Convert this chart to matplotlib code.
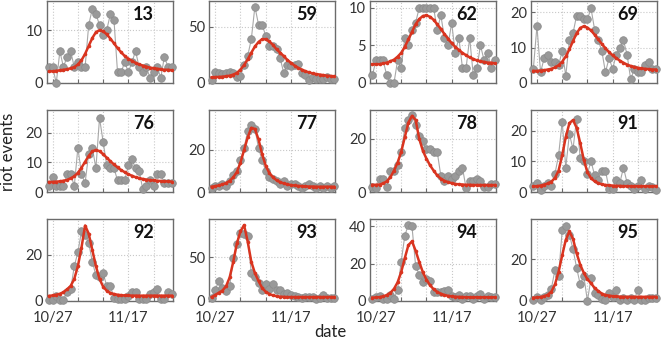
import numpy as np
import pandas as pd
import matplotlib
matplotlib.use("Agg")
import matplotlib.pyplot as plt

plt.rcParams['font.family'] = ['Lato', 'DejaVu Sans']

# days covered by every panel
dates = pd.date_range('2020-10-26', '2020-11-29', freq='D')
grid_dates = ['10/27', '11/03', '11/10', '11/17', '11/24']
label_dates = ['10/27', '11/17']

regions = ['13', '59', '62', '69', '76', '77', '78', '91', '92', '93', '94', '95']

# observed riot events per day
obs_13 = [3, 3, 0, 6, 3, 5, 6, 3, 4, 3, 3, 11, 14, 13, 11, 9, 10, 13, 12, 2, 2, 4, 2, 4, 6, 3, 2, 3, 1, 2, 3, 1, 5, 3, 3]
obs_59 = [3, 10, 9, 8, 9, 10, 9, 5, 6, 16, 24, 39, 68, 52, 52, 42, 33, 33, 30, 22, 9, 16, 15, 16, 17, 9, 7, 3, 5, 4, 4, 4, 5, 4, 4]
obs_62 = [1, 3, 3, 3, 1, 0, 0, 3, 2, 6, 5, 7, 8, 10, 10, 10, 10, 10, 7, 9, 6, 5, 8, 4, 6, 2, 2, 6, 1, 2, 5, 3, 4, 2, 3]
obs_69 = [4, 16, 3, 7, 8, 6, 6, 5, 9, 2, 12, 14, 19, 19, 18, 18, 21, 15, 12, 9, 3, 7, 4, 8, 10, 12, 8, 1, 4, 3, 3, 5, 6, 4, 4]
obs_76 = [2, 5, 2, 2, 2, 6, 6, 2, 15, 6, 3, 13, 15, 8, 25, 17, 9, 8, 8, 4, 4, 4, 9, 11, 8, 7, 1, 2, 4, 2, 6, 6, 3, 3, 3]
obs_77 = [2, 3, 3, 4, 3, 5, 8, 10, 15, 21, 29, 32, 30, 21, 15, 10, 7, 6, 5, 4, 5, 3, 4, 4, 3, 2, 3, 4, 3, 2, 3, 2, 3, 2, 3]
obs_78 = [2, 1.5, 5, 5, 2, 8, 8, 10, 15, 24, 27, 29, 25, 21, 19, 16, 16, 15, 15, 6, 4, 6, 5, 6, 8, 9, 1.5, 4, 4, 5, 4, 2, 2, 3, 3]
obs_91 = [2, 3, 0.5, 2, 3, 2, 6, 12, 23, 8, 19, 14, 24, 11, 10, 6, 10, 5.5, 4, 7, 7, 1, 1, 4, 3, 8, 3, 2, 1, 2, 4, 1, 2, 1.5, 0.5]
obs_92 = [0.5, 0.5, 2, 0.5, 0.5, 4, 5, 15, 21, 30, 28.5, 25, 17, 11, 10.5, 12, 6.5, 6.5, 1.5, 1, 1, 1, 2, 4, 4, 1, 1, 1, 3, 4, 5, 1, 1, 4, 3]
obs_93 = [3, 13, 23, 15, 12, 17, 49, 65, 78, 77, 74, 32, 27, 21, 13, 19, 14, 20, 13, 13, 8, 9, 7, 6, 5, 3, 5, 5, 5, 2, 4, 7, 4, 4, 3]
obs_94 = [1, 2, 2.5, 1, 1, 3, 1, 6, 21, 35, 41, 40, 19, 14, 10, 12, 11, 5, 5, 5, 5.5, 6, 2.5, 2, 3, 1, 2.5, 2.5, 1, 2.5, 4, 1, 2.5, 2, 2]
obs_95 = [0.5, 2, 0.3, 2, 3, 6, 15, 12, 34, 36, 32, 25, 16, 8, 12, 0, 11, 4, 3, 1, 0.5, 4, 2, 5.5, 0.5, 1.5, 0.5, 1.5, 0.5, 5.5, 0.5, 0.5, 1.5, 1.5, 1.5]

# fitted curves
fit_13 = [2.2, 2.2, 2.3, 2.4, 2.5, 2.6, 2.8, 3.0, 3.5, 4.3, 5.5, 7.0, 8.5, 9.6, 10.0, 9.8, 9.2, 8.4, 7.5, 6.6, 5.8, 5.1, 4.6, 4.2, 3.8, 3.5, 3.3, 3.1, 2.9, 2.8, 2.7, 2.6, 2.5, 2.5, 2.4]
fit_59 = [5, 5.2, 5.4, 5.6, 6, 6.5, 7.5, 9, 12, 16, 21, 27, 32.5, 36.5, 39, 39, 37, 34, 30, 27, 24, 20.5, 18, 15.5, 13.5, 12, 10.5, 9.5, 8.5, 8, 7.5, 7, 6.5, 6.2, 6]
fit_62 = [2.5, 2.5, 2.5, 2.6, 2.7, 2.9, 3.1, 3.5, 4.0, 4.8, 5.8, 6.8, 7.8, 8.5, 8.9, 9.0, 8.8, 8.4, 7.8, 7.2, 6.5, 5.9, 5.3, 4.8, 4.4, 4.0, 3.7, 3.4, 3.2, 3.0, 2.9, 2.8, 2.7, 2.7, 2.6]
fit_69 = [3.4, 3.4, 3.5, 3.6, 3.8, 4.0, 4.4, 5.0, 6.0, 7.5, 9.5, 11.8, 14, 15.5, 16, 15.6, 14.8, 13.6, 12.3, 11, 9.8, 8.7, 7.8, 7, 6.3, 5.7, 5.2, 4.8, 4.5, 4.3, 4.1, 4.0, 3.9, 3.8, 3.8]
fit_76 = [3.4, 3.4, 3.5, 3.6, 3.8, 4.1, 4.6, 5.3, 6.5, 8.2, 10.2, 12.2, 13.7, 14.2, 13.8, 12.8, 11.6, 10.4, 9.3, 8.3, 7.4, 6.7, 6.0, 5.5, 5.0, 4.7, 4.4, 4.2, 4.0, 3.9, 3.8, 3.7, 3.6, 3.6, 3.5]
fit_77 = [2.5, 2.8, 3.1, 3.6, 4.3, 5.3, 7, 9.5, 14, 20, 26, 30.5, 30, 25, 18, 12.5, 9, 7, 5.6, 4.7, 4.1, 3.6, 3.3, 3.1, 2.9, 2.8, 2.7, 2.6, 2.6, 2.5, 2.5, 2.5, 2.5, 2.5, 2.5]
fit_78 = [2.7, 2.7, 2.8, 3.2, 4.0, 5.5, 8, 11, 15, 20.5, 26, 28.5, 27, 20, 15.5, 12.5, 10, 8, 6.2, 5.0, 4.2, 3.7, 3.3, 3.0, 2.9, 2.8, 2.7, 2.7, 2.6, 2.6, 2.6, 2.6, 2.6, 2.6, 2.6]
fit_91 = [1.8, 1.9, 2.1, 2.4, 2.8, 3.4, 4.6, 7, 12, 18, 22.5, 23.5, 21, 16, 10.5, 6.5, 4.5, 3.5, 2.9, 2.5, 2.3, 2.2, 2.1, 2.0, 2.0, 1.9, 1.9, 1.9, 1.9, 1.9, 1.9, 1.9, 1.9, 1.9, 1.9]
fit_92 = [2.2, 2.4, 2.7, 3.1, 3.8, 5, 6.5, 9.5, 15, 23, 32.5, 29, 22, 15, 9.5, 6.2, 4.4, 3.5, 3, 2.7, 2.5, 2.4, 2.4, 2.3, 2.3, 2.3, 2.3, 2.3, 2.3, 2.3, 2.3, 2.3, 2.3, 2.3, 2.3]
fit_93 = [4.5, 7, 9.5, 12, 17, 27, 45, 66, 80, 87, 68, 45, 32, 23, 15, 10.5, 8, 6.5, 5.5, 5, 4.7, 4.5, 4.5, 4.5, 4.5, 4.5, 4.5, 4.5, 4.5, 4.5, 4.5, 4.5, 4.5, 4.5, 4.5]
fit_94 = [1.8, 1.9, 2.1, 2.5, 3.2, 4.4, 6.5, 10, 15.5, 23, 30, 32, 27, 21, 15.5, 11.5, 8.5, 6.3, 4.9, 3.9, 3.2, 2.8, 2.5, 2.3, 2.2, 2.1, 2.0, 2.0, 2.0, 2.0, 2.0, 2.0, 2.0, 2.0, 2.0]
fit_95 = [1.6, 1.7, 1.9, 2.3, 3.0, 4.5, 8, 14, 22, 29.5, 33.5, 30, 23, 17.5, 13.5, 10.5, 8.5, 6.3, 4.8, 3.6, 2.9, 2.6, 2.3, 2.2, 2.1, 2.0, 2.0, 2.0, 2.0, 2.0, 2.0, 2.0, 2.0, 2.0, 2.0]

observed = [obs_13, obs_59, obs_62, obs_69, obs_76, obs_77, obs_78, obs_91, obs_92, obs_93, obs_94, obs_95]
fitted = [fit_13, fit_59, fit_62, fit_69, fit_76, fit_77, fit_78, fit_91, fit_92, fit_93, fit_94, fit_95]

y_ticks = [[0, 10], [0, 50], [0, 5, 10], [0, 10, 20],
           [0, 10, 20], [0, 20], [0, 20], [0, 10, 20],
           [0, 20], [0, 50], [0, 20, 40], [0, 20]]
y_max = [15.5, 73, 10.9, 23.1, 27.7, 39, 30.7, 26.8, 35.3, 94, 44, 39.5]

W, H = 664, 341
fig = plt.figure(figsize=(W / 100, H / 100), dpi=100)

col_left = [46.7, 209.3, 370, 531]
row_top = [1, 110, 219]
ax_w, ax_h = 126, 82

day_idx = np.arange(len(dates))
labels_md = dates.strftime('%m/%d')
grid_pos = [i for i, d in enumerate(labels_md) if d in grid_dates]
tick_txt = []
for i in grid_pos:
    d = labels_md[i]
    tick_txt.append(d if d in label_dates else '')

red = '#d9341f'
spine_c = '#6b6b6b'

for k, name in enumerate(regions):
    r, c = divmod(k, 4)
    ax = fig.add_axes([col_left[c] / W, 1 - (row_top[r] + ax_h) / H, ax_w / W, ax_h / H])
    ax.plot(day_idx, observed[k], '-', color='#a8a8a8', lw=0.8, zorder=2)
    ax.plot(day_idx, observed[k], 'o', color='#999999', mec='#8a8a8a', mew=0.5,
            ms=5.5, zorder=3, clip_on=False)
    ax.plot(day_idx, fitted[k], '-o', color=red, lw=1.8, ms=2.6, mew=0, zorder=4)
    ax.set_xlim(-0.65, 34.3)
    ax.set_ylim(0, y_max[k])
    ax.set_yticks(y_ticks[k])
    ax.set_xticks(grid_pos)
    if r == 2:
        ax.set_xticklabels(tick_txt)
    else:
        ax.set_xticklabels([])
    ax.grid(True, ls=':', color='#c8c8c8', lw=0.8)
    ax.set_axisbelow(True)
    for s in ax.spines.values():
        s.set_color(spine_c)
        s.set_linewidth(1.0)
    ax.tick_params(direction='in', length=3, color=spine_c, labelsize=10.5,
                   labelcolor='#333333', pad=3)
    ax.tick_params(axis='x', pad=7)
    ax.text(0.77, 0.84, name, transform=ax.transAxes, ha='center', va='center',
            fontsize=13, fontweight='bold', color='#111111', zorder=6)

fig.text(8 / W, 1 - 152 / H, 'riot events', rotation=90, ha='center', va='center',
         fontsize=12, color='#222222')
fig.text(330 / W, 1 - 332 / H, 'date', ha='center', va='center',
         fontsize=12, color='#222222')

fig.savefig('out.png', dpi=100)
